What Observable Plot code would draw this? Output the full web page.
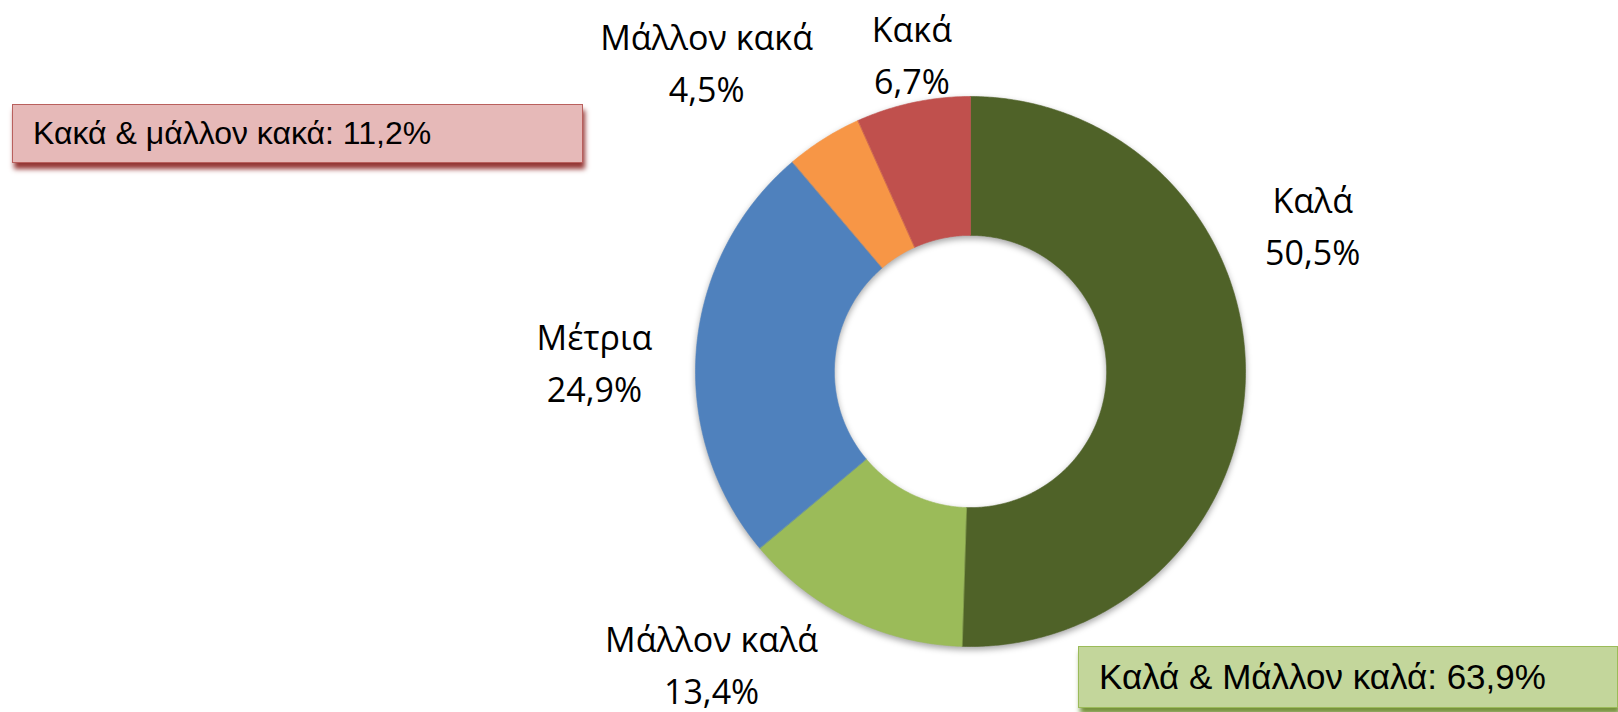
<!DOCTYPE html>
<html>
<head>
<meta charset="utf-8">
<script src="https://cdn.jsdelivr.net/npm/d3@7"></script>
<script src="https://cdn.jsdelivr.net/npm/@observablehq/plot@0.6"></script>
<style>
  html, body { margin: 0; padding: 0; background: #fff; }
  #wrap { position: relative; width: 1618px; height: 712px; overflow: hidden; }
  #wrap svg { position: absolute; left: 0; top: 0; }
  #wrap svg g[aria-label="area"] { filter: drop-shadow(0px 3px 3px rgba(0,0,0,0.35)); }
  .callout {
    position: absolute; box-sizing: border-box; display: flex; align-items: center;
    font-family: "Liberation Sans", Arial, sans-serif; color: #000;
    white-space: nowrap;
  }
  #bad { left: 12px; top: 104px; width: 571px; height: 59px; padding-left: 20px; font-size: 32px;
    background: #E6B9B8; border: 1.5px solid #B9605D; box-shadow: 2px 6px 5px #953735; }
  #good { left: 1078px; top: 646px; width: 540px; height: 62px; padding-left: 20px; font-size: 35px;
    background: #C3D69B; border: 1.5px solid #9BBB59; box-shadow: 2px 6px 5px #77933C; }
</style>
</head>
<body>
<div id="wrap"></div>
<script>
// ---- data ----
const categories = ["Καλά", "Μάλλον καλά", "Μέτρια", "Μάλλον κακά", "Κακά"];
const values = [50.5, 13.4, 24.9, 4.5, 6.7];
const colors = ["#4F6228", "#9BBB59", "#4F81BD", "#F79646", "#C0504D"];
const goodGroup = ["Καλά", "Μάλλον καλά"];
const badGroup = ["Κακά", "Μάλλον κακά"];

// ---- layout ----
const innerRatio = 0.495;
// label placement relative to each slice's mid-angle: [angle nudge (deg), distance in radii]
const labelLayout = {
  "Καλά": [-24.5, 1.356],
  "Μάλλον καλά": [16.0, 1.412],
  "Μέτρια": [-3.0, 1.370],
  "Μάλλον κακά": [-8.0, 1.489],
  "Κακά": [1.6, 1.185]
};

const fmt = v => v.toFixed(1).replace(".", ",") + "%";
const table = categories.map((c, i) => ({cat: c, value: values[i]}));
const total = d3.sum(values);

// angles clockwise from 12 o'clock
let acc = 0;
const slices = table.map(d => {
  const a0 = acc / total * 2 * Math.PI;
  acc += d.value;
  const a1 = acc / total * 2 * Math.PI;
  return {...d, a0, a1};
});

// ring geometry sampled along each slice's arc
const ring = [];
for (const s of slices) {
  const n = Math.max(2, Math.ceil((s.a1 - s.a0) / (Math.PI / 360)));
  for (let k = 0; k <= n; k++) {
    const a = s.a0 + (s.a1 - s.a0) * k / n;
    ring.push({
      cat: s.cat,
      x1: innerRatio * Math.sin(a), y1: innerRatio * Math.cos(a),
      x2: Math.sin(a), y2: Math.cos(a)
    });
  }
}

const labels = slices.map(s => {
  const [nudge, dist] = labelLayout[s.cat];
  const a = (s.a0 + s.a1) / 2 + nudge * Math.PI / 180;
  return {cat: s.cat, x: dist * Math.sin(a), y: dist * Math.cos(a), text: s.cat + "\n" + fmt(s.value)};
});

const chart = Plot.plot({
  width: 1618,
  height: 712,
  margin: 0,
  x: {domain: [-1, 1], range: [695.5, 1245.5], axis: null},
  y: {domain: [-1, 1], range: [646.5, 96.5], axis: null},
  color: {domain: categories, range: colors},
  marks: [
    Plot.area(ring, {x1: "x1", y1: "y1", x2: "x2", y2: "y2", z: "cat", fill: "cat",
      stroke: "cat", strokeWidth: 0.6, curve: "linear"}),
    Plot.text(labels, {x: "x", y: "y", text: "text", fontSize: 34,
      fontFamily: "Open Sans", lineHeight: 1.53, fill: "#000"})
  ]
});

const wrap = document.getElementById("wrap");
wrap.appendChild(chart);

const sumOf = group => d3.sum(table.filter(d => group.includes(d.cat)), d => d.value);
const bad = document.createElement("div");
bad.className = "callout"; bad.id = "bad";
bad.textContent = "Κακά & μάλλον κακά: " + fmt(sumOf(badGroup));
const good = document.createElement("div");
good.className = "callout"; good.id = "good";
good.textContent = "Καλά & Μάλλον καλά: " + fmt(sumOf(goodGroup));
wrap.appendChild(bad);
wrap.appendChild(good);
</script>
</body>
</html>
